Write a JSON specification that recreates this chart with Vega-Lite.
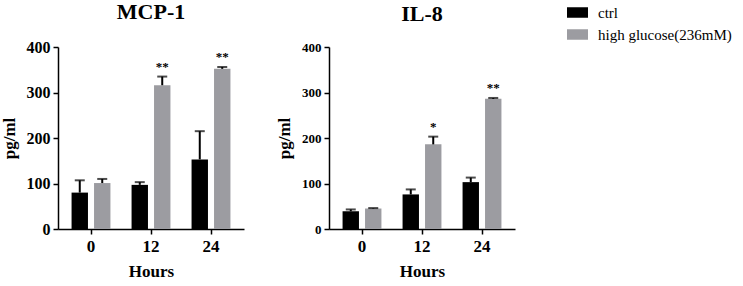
{
  "$schema": "https://vega.github.io/schema/vega-lite/v6.json",
  "padding": {"left": 0, "top": 1, "right": 0, "bottom": 0},
  "background": "white",
  "data": {"values": [
    {"panel": "MCP-1", "hours": "0", "group": "ctrl", "value": 80, "err": 107, "sig": ""},
    {"panel": "MCP-1", "hours": "0", "group": "high glucose(236mM)", "value": 101, "err": 110, "sig": ""},
    {"panel": "MCP-1", "hours": "12", "group": "ctrl", "value": 97, "err": 103, "sig": ""},
    {"panel": "MCP-1", "hours": "12", "group": "high glucose(236mM)", "value": 316, "err": 335, "sig": "**"},
    {"panel": "MCP-1", "hours": "24", "group": "ctrl", "value": 153, "err": 215, "sig": ""},
    {"panel": "MCP-1", "hours": "24", "group": "high glucose(236mM)", "value": 352, "err": 356, "sig": "**"},
    {"panel": "IL-8", "hours": "0", "group": "ctrl", "value": 39, "err": 43, "sig": ""},
    {"panel": "IL-8", "hours": "0", "group": "high glucose(236mM)", "value": 45, "err": 46, "sig": ""},
    {"panel": "IL-8", "hours": "12", "group": "ctrl", "value": 76, "err": 87, "sig": ""},
    {"panel": "IL-8", "hours": "12", "group": "high glucose(236mM)", "value": 186, "err": 203, "sig": "*"},
    {"panel": "IL-8", "hours": "24", "group": "ctrl", "value": 103, "err": 113, "sig": ""},
    {"panel": "IL-8", "hours": "24", "group": "high glucose(236mM)", "value": 286, "err": 288, "sig": "**"}
  ]},
  "spacing": 31,
  "hconcat": [
    {
      "title": "MCP-1",
      "width": 186,
      "height": 182,
      "transform": [{"filter": "datum.panel == 'MCP-1'"}],
      "encoding": {
        "x": {"field": "hours", "type": "ordinal", "sort": ["0", "12", "24"], "title": "Hours",
              "scale": {"paddingInner": 0, "paddingOuter": 0.05}},
        "xOffset": {"field": "group", "type": "nominal", "sort": ["ctrl", "high glucose(236mM)"],
                    "scale": {"paddingInner": 0.27, "paddingOuter": 0.47}}
      },
      "layer": [
        {"mark": {"type": "bar"},
         "encoding": {
           "y": {"field": "value", "type": "quantitative", "title": "pg/ml",
                 "scale": {"domain": [0, 400], "nice": false},
                 "axis": {"values": [0, 100, 200, 300, 400], "labelFontSize": 16, "labelFont": "Liberation Serif"}},
           "color": {"field": "group", "type": "nominal", "sort": ["ctrl", "high glucose(236mM)"],
                     "scale": {"domain": ["ctrl", "high glucose(236mM)"], "range": ["#000000", "#9c9ca1"]},
                     "legend": {"title": null, "orient": "none", "legendX": 509, "legendY": -45}}
         }},
        {"mark": {"type": "rule", "color": "black", "strokeWidth": 2},
         "encoding": {"y": {"field": "value", "type": "quantitative"}, "y2": {"field": "err"}}},
        {"mark": {"type": "tick", "color": "black", "thickness": 2, "size": 10},
         "encoding": {"y": {"field": "err", "type": "quantitative"}}},
        {"mark": {"type": "text", "color": "black", "fill": "black", "font": "Liberation Serif", "fontSize": 13, "fontWeight": "bold", "baseline": "bottom", "dy": -3},
         "encoding": {"y": {"field": "err", "type": "quantitative"}, "text": {"field": "sig"}}}
      ]
    },
    {
      "title": "IL-8",
      "width": 186,
      "height": 182,
      "transform": [{"filter": "datum.panel == 'IL-8'"}],
      "encoding": {
        "x": {"field": "hours", "type": "ordinal", "sort": ["0", "12", "24"], "title": "Hours",
              "scale": {"paddingInner": 0, "paddingOuter": 0.05}},
        "xOffset": {"field": "group", "type": "nominal", "sort": ["ctrl", "high glucose(236mM)"],
                    "scale": {"paddingInner": 0.27, "paddingOuter": 0.47}}
      },
      "layer": [
        {"mark": {"type": "bar"},
         "encoding": {
           "y": {"field": "value", "type": "quantitative", "title": "pg/ml",
                 "scale": {"domain": [0, 400], "nice": false},
                 "axis": {"values": [0, 100, 200, 300, 400], "labelFontSize": 13, "labelFont": "Liberation Serif"}},
           "color": {"field": "group", "type": "nominal", "sort": ["ctrl", "high glucose(236mM)"],
                     "scale": {"domain": ["ctrl", "high glucose(236mM)"], "range": ["#000000", "#9c9ca1"]},
                     "legend": {"title": null, "orient": "none", "legendX": 509, "legendY": -45}}
         }},
        {"mark": {"type": "rule", "color": "black", "strokeWidth": 2},
         "encoding": {"y": {"field": "value", "type": "quantitative"}, "y2": {"field": "err"}}},
        {"mark": {"type": "tick", "color": "black", "thickness": 2, "size": 10},
         "encoding": {"y": {"field": "err", "type": "quantitative"}}},
        {"mark": {"type": "text", "color": "black", "fill": "black", "font": "Liberation Serif", "fontSize": 13, "fontWeight": "bold", "baseline": "bottom", "dy": -3},
         "encoding": {"y": {"field": "err", "type": "quantitative"}, "text": {"field": "sig"}}}
      ]
    }
  ],
  "resolve": {"scale": {"color": "shared"}},
  "config": {
    "view": {"stroke": null},
    "font": "Liberation Serif",
    "title": {"font": "Liberation Serif", "fontSize": 22, "fontWeight": "bold", "color": "black", "frame": "group", "anchor": "middle", "offset": 15},
    "axis": {
      "grid": false,
      "domainColor": "black", "domainWidth": 1.5,
      "tickColor": "black", "tickWidth": 1.5, "tickSize": 5,
      "labelFont": "Liberation Serif", "labelFontWeight": "bold", "labelColor": "black",
      "titleFont": "Liberation Serif", "titleFontWeight": "bold", "titleColor": "black", "titleFontSize": 17
    },
    "axisX": {"labelAngle": 0, "labelFontSize": 17, "labelPadding": 4, "titlePadding": 9},
    "axisY": {"labelPadding": 3, "titlePadding": 8},
    "legend": {
      "labelFont": "Liberation Serif", "labelFontSize": 15, "labelColor": "black",
      "symbolType": "M-1,-0.5H1V0.5H-1Z", "symbolSize": 441, "symbolStrokeWidth": 0, "symbolOpacity": 1,
      "rowPadding": 3, "labelOffset": 10
    }
  }
}
